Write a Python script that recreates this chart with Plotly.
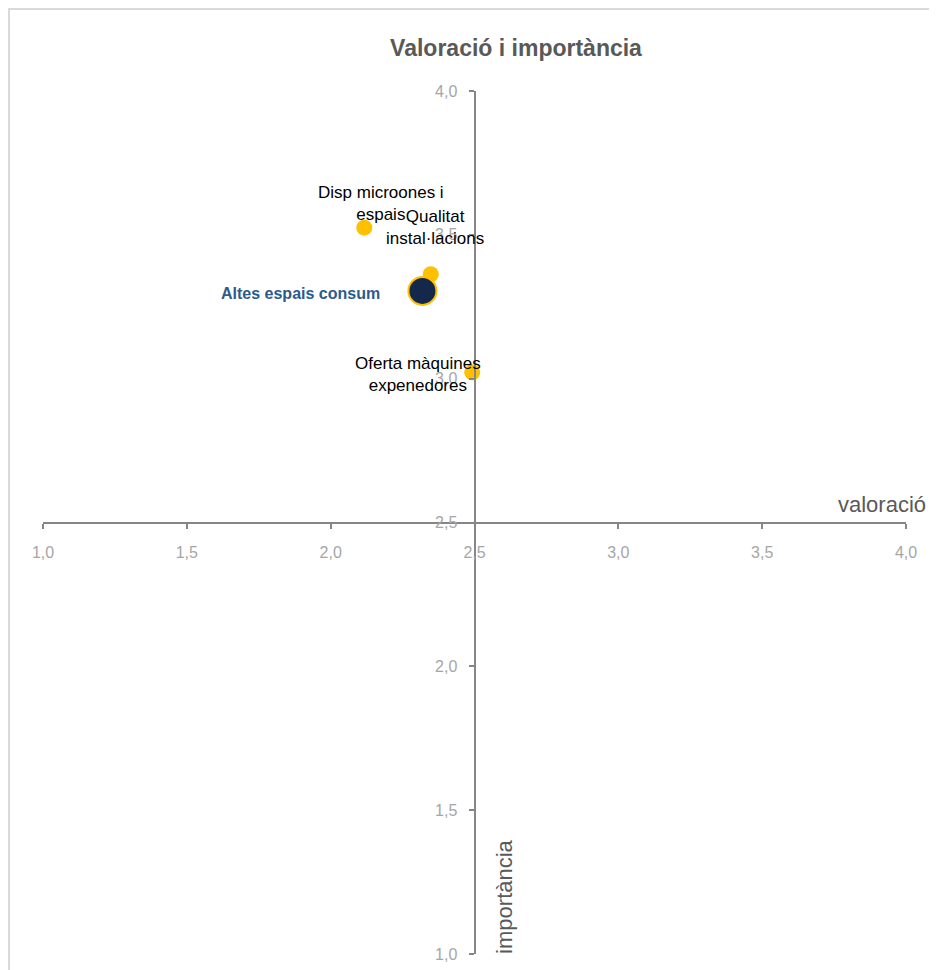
import plotly.graph_objects as go

# Data
labels = ["Disp microones i<br>espais", "Qualitat<br>instal·lacions", "Oferta màquines<br>expenedores"]
valoracio = [2.117, 2.348, 2.492]
importancia = [3.525, 3.363, 3.022]

avg_label = "Altes espais consum"
avg_valoracio = [2.319]
avg_importancia = [3.305]

tick_vals = [1.0, 1.5, 2.0, 2.5, 3.0, 3.5, 4.0]

FONT = "Liberation Sans"
W, H = 929, 962
L, R, T, B = 35, 31, 83, 16

fig = go.Figure()

fig.add_trace(go.Scatter(
    x=valoracio, y=importancia, mode="markers",
    marker=dict(size=16, color="#FFC000", line=dict(width=0)),
    hoverinfo="skip", showlegend=False))

fig.add_trace(go.Scatter(
    x=avg_valoracio, y=avg_importancia, mode="markers",
    marker=dict(size=28, color="#14284B", line=dict(width=2, color="#FFC000")),
    hoverinfo="skip", showlegend=False))

# label offsets (pixels) relative to each point
offsets = [(17, 24, "center"), (4, 47, "center"), (11, -2, "right")]
for (lab, xv, yv, (dx, dy, anc)) in zip(labels, valoracio, importancia, offsets):
    fig.add_annotation(x=xv, y=yv, xref="x", yref="y", text=lab, showarrow=False,
                       xanchor=anc, yanchor="middle", xshift=dx, yshift=dy, align="center",
                       font=dict(family=FONT, size=17, color="#000000"))

fig.add_annotation(x=avg_valoracio[0], y=avg_importancia[0], xref="x", yref="y",
                   text="<b>" + avg_label + "</b>", showarrow=False,
                   xanchor="right", yanchor="middle", xshift=-40, yshift=-3,
                   font=dict(family=FONT, size=16, color="#2E5A8C"))

# axis titles
fig.add_annotation(x=1.025, y=0.5213, xref="paper", yref="paper", text="valoració",
                   showarrow=False, xanchor="right", yanchor="middle",
                   font=dict(family=FONT, size=22, color="#595959"))
fig.add_annotation(x=0.534, y=0.066, xref="paper", yref="paper", text="importància",
                   showarrow=False, textangle=-90, xanchor="center", yanchor="middle",
                   font=dict(family=FONT, size=22, color="#595959"))

axis_common = dict(
    range=[1, 4], tickvals=tick_vals, tickformat=".1f",
    showgrid=False, zeroline=False, showline=True, linecolor="#868686", linewidth=2,
    ticks="outside", ticklen=5, tickcolor="#868686", tickwidth=1.5,
    tickfont=dict(family=FONT, size=16, color="#A6A6A6"),
    anchor="free", position=0.5, automargin=False,
)

pw = W - L - R
ph = H - T - B
fig.update_layout(
    width=W, height=H,
    margin=dict(l=L, r=R, t=T, b=B, autoexpand=False),
    paper_bgcolor="white", plot_bgcolor="white",
    separators=", ",
    title=dict(text="<b>Valoració i importància</b>", x=508 / W, xanchor="center",
               y=1 - 40 / H, yanchor="middle",
               font=dict(family=FONT, size=23, color="#595959")),
    xaxis=dict(**axis_common, ticklabelstandoff=10),
    yaxis=dict(**axis_common, ticklabelstandoff=8),
    shapes=[dict(type="rect", xref="paper", yref="paper",
                 x0=(1 - L) / pw, x1=1.2, y0=-0.2, y1=(ph + T - 1) / ph,
                 line=dict(color="#D9D9D9", width=2), layer="below")],
)

fig.write_html("out.html")
